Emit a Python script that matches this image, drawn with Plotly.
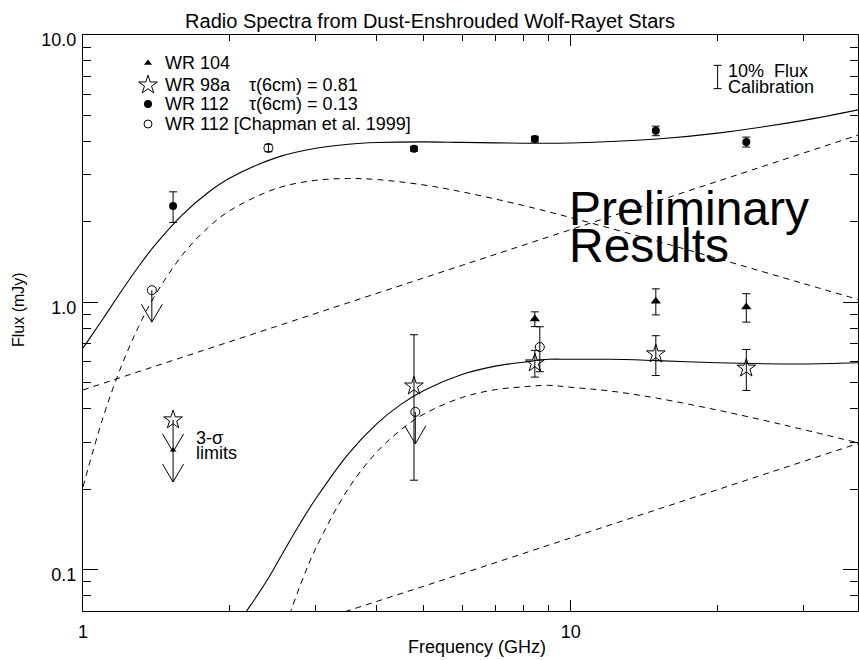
import numpy as np
import plotly.graph_objects as go

# ---------------- data ----------------
x_range = [1.0, 38.8]          # GHz
y_range = [0.07, 10.0]         # mJy

x_major = [1, 10]
x_major_text = ["1", "10"]
x_minor = [2, 3, 4, 5, 6, 7, 8, 9, 20, 30]
y_major = [0.1, 1, 10]
y_major_text = ["0.1", "1.0", "10.0"]
y_minor = [0.07, 0.08, 0.09, 0.2, 0.3, 0.4, 0.5, 0.6, 0.7, 0.8, 0.9,
           2, 3, 4, 5, 6, 7, 8, 9]

wr104_freq = [8.44, 14.94, 22.9]
wr104_flux = [0.866, 1.01, 0.96]
wr104_err = [0.055, 0.113, 0.117]
wr104_lim_freq = [1.53]
wr104_lim_flux = [0.28]

wr98a_freq = [4.77, 8.44, 14.94, 22.9]
wr98a_flux = [0.486, 0.593, 0.641, 0.567]
wr98a_err = [0.27, 0.068, 0.109, 0.099]
wr98a_lim_freq = [1.53]
wr98a_lim_flux = [0.363]

wr112_freq = [1.53, 4.77, 8.44, 14.94, 22.9]
wr112_flux = [2.29, 3.75, 4.08, 4.38, 3.98]
wr112_err = [0.30, 0.08, 0.10, 0.18, 0.17]

chap_freq = [2.4, 8.64]
chap_flux = [3.78, 0.68]
chap_err = [0.12, 0.13]
chap_lim_freq = [1.384, 4.8]
chap_lim_flux = [1.11, 0.389]

cal_freq = [20.0]
cal_flux = [7.0]
cal_err = [0.7]

# model curves
wr112_curve_freq = [1.0, 1.1, 1.2, 1.3, 1.4, 1.6, 1.8, 2.0, 2.5, 3.0, 3.5, 4.0,
                    5.0, 6.0, 8.0, 10.0, 15.0, 20.0, 30.0, 38.8]
wr112_total = [0.674, 0.870, 1.104, 1.361, 1.625, 2.130, 2.564, 2.915, 3.485,
               3.768, 3.902, 3.959, 3.981, 3.964, 3.938, 3.945, 4.080, 4.294,
               4.792, 5.245]
wr112_sync = [0.204, 0.372, 0.580, 0.811, 1.050, 1.507, 1.895, 2.203, 2.671,
              2.859, 2.905, 2.879, 2.747, 2.587, 2.301, 2.074, 1.694, 1.458,
              1.175, 1.025]
wr112_ff_freq = [1.0, 2.0, 5.0, 10.0, 20.0, 38.8]
wr112_ff = [0.47, 0.712, 1.234, 1.871, 2.836, 4.22]

wr98a_curve_freq = [2.1, 2.2, 2.4, 2.6, 2.8, 3.0, 3.5, 4.0, 4.5, 5.0, 6.0, 7.0,
                    8.0, 9.0, 10.0, 12.0, 15.0, 20.0, 25.0, 30.0, 38.8]
wr98a_total = [0.065, 0.073, 0.093, 0.120, 0.151, 0.184, 0.271, 0.351, 0.417,
               0.468, 0.538, 0.577, 0.597, 0.612, 0.612, 0.612, 0.605, 0.594,
               0.589, 0.588, 0.594]
wr98a_sync = [0.013, 0.020, 0.038, 0.061, 0.089, 0.120, 0.201, 0.275, 0.335,
              0.382, 0.441, 0.471, 0.483, 0.489, 0.481, 0.466, 0.438, 0.395,
              0.361, 0.334, 0.298]
wr98a_ff_freq = [2.0, 5.0, 10.0, 20.0, 38.8]
wr98a_ff = [0.0505, 0.0867, 0.1314, 0.1991, 0.2963]

# ---------------- layout constants ----------------
W, H = 859, 660
L, R, T, B = 83, 858, 35, 611
FONT = "Liberation Sans, Arial, Helvetica, sans-serif"
BLACK = "black"
DASH = "6px,5px"

x_px_per_dec = (R - L) / (np.log10(x_range[1]) - np.log10(x_range[0]))
y_px_per_dec = (B - T) / (np.log10(y_range[1]) - np.log10(y_range[0]))


def px(x):
    return (x - L) / (R - L)


def py(y):
    return (B - y) / (B - T)


def limit_arrows(freqs, fluxes, length=32, head=18, half=10.5):
    xs, ys = [], []
    for f, v in zip(freqs, fluxes):
        tip = v * 10 ** (-length / y_px_per_dec)
        top = tip * 10 ** (head / y_px_per_dec)
        fl = f * 10 ** (-half / x_px_per_dec)
        fr = f * 10 ** (half / x_px_per_dec)
        xs += [f, f, None, fl, f, fr, None]
        ys += [v, tip, None, top, tip, top, None]
    return xs, ys


fig = go.Figure()

line_solid = dict(color=BLACK, width=1.1)
line_dash = dict(color=BLACK, width=1, dash=DASH)

# model curves
fig.add_trace(go.Scatter(x=wr112_curve_freq, y=wr112_total, mode="lines",
                         line=dict(**line_solid, shape="spline"), showlegend=False))
fig.add_trace(go.Scatter(x=wr112_curve_freq, y=wr112_sync, mode="lines",
                         line=dict(**line_dash, shape="spline"), showlegend=False))
fig.add_trace(go.Scatter(x=wr112_ff_freq, y=wr112_ff, mode="lines",
                         line=line_dash, showlegend=False))
fig.add_trace(go.Scatter(x=wr98a_curve_freq, y=wr98a_total, mode="lines",
                         line=dict(**line_solid, shape="spline"), showlegend=False))
fig.add_trace(go.Scatter(x=wr98a_curve_freq, y=wr98a_sync, mode="lines",
                         line=dict(**line_dash, shape="spline"), showlegend=False))
fig.add_trace(go.Scatter(x=wr98a_ff_freq, y=wr98a_ff, mode="lines",
                         line=line_dash, showlegend=False))

# upper-limit arrows
for fr_, fl_ in [(chap_lim_freq, chap_lim_flux), (wr98a_lim_freq, wr98a_lim_flux),
                 (wr104_lim_freq, wr104_lim_flux)]:
    ax_, ay_ = limit_arrows(fr_, fl_)
    fig.add_trace(go.Scatter(x=ax_, y=ay_, mode="lines",
                             line=dict(color=BLACK, width=1), showlegend=False,
                             hoverinfo="skip"))

err_style = dict(type="data", color=BLACK, thickness=1, width=4)

# data points
fig.add_trace(go.Scatter(x=wr112_freq, y=wr112_flux, mode="markers", name="WR 112",
                         marker=dict(symbol="circle", size=8, color=BLACK),
                         error_y=dict(array=wr112_err, **err_style), showlegend=False))
fig.add_trace(go.Scatter(x=chap_freq, y=chap_flux, mode="markers",
                         name="WR 112 [Chapman et al. 1999]",
                         marker=dict(symbol="circle-open", size=9, color=BLACK,
                                     line=dict(width=1, color=BLACK)),
                         error_y=dict(array=chap_err, **err_style), showlegend=False))
fig.add_trace(go.Scatter(x=chap_lim_freq, y=chap_lim_flux, mode="markers",
                         marker=dict(symbol="circle-open", size=9, color=BLACK,
                                     line=dict(width=1, color=BLACK)), showlegend=False))
fig.add_trace(go.Scatter(x=wr104_freq, y=wr104_flux, mode="markers", name="WR 104",
                         marker=dict(symbol="triangle-up", size=9, color=BLACK),
                         error_y=dict(array=wr104_err, **err_style), showlegend=False))
fig.add_trace(go.Scatter(x=wr104_lim_freq, y=wr104_lim_flux, mode="markers",
                         marker=dict(symbol="triangle-up", size=6, color=BLACK),
                         showlegend=False))
fig.add_trace(go.Scatter(x=wr98a_freq, y=wr98a_flux, mode="markers", name="WR 98a",
                         marker=dict(symbol="star-open", size=14, color=BLACK,
                                     line=dict(width=1, color=BLACK)),
                         error_y=dict(array=wr98a_err, **err_style), showlegend=False))
fig.add_trace(go.Scatter(x=wr98a_lim_freq, y=wr98a_lim_flux, mode="markers",
                         marker=dict(symbol="star-open", size=14, color=BLACK,
                                     line=dict(width=1, color=BLACK)), showlegend=False))
# 10% flux calibration bar
fig.add_trace(go.Scatter(x=cal_freq, y=cal_flux, mode="markers",
                         marker=dict(size=1, color="rgba(0,0,0,0)"),
                         error_y=dict(array=cal_err, **err_style), showlegend=False,
                         hoverinfo="skip"))

# legend symbols on an overlay (paper-like) axis pair
leg_rows = [63, 85, 104, 124]
leg_sym = [dict(symbol="triangle-up", size=7, color=BLACK),
           dict(symbol="star-open", size=14, color=BLACK, line=dict(width=1, color=BLACK)),
           dict(symbol="circle", size=8, color=BLACK),
           dict(symbol="circle-open", size=8, color=BLACK, line=dict(width=1, color=BLACK))]
for row, sym in zip(leg_rows, leg_sym):
    fig.add_trace(go.Scatter(x=[px(148)], y=[py(row)], mode="markers", marker=sym,
                             xaxis="x2", yaxis="y2", showlegend=False, hoverinfo="skip"))

NB = "\u00a0"
annots = []


def text(x, y, s, size=18, xanchor="left", angle=0, base=None):
    """Place text; multi-line text uses a small base font to set tight line spacing."""
    if base is not None:
        s = "<br>".join('<span style="font-size:%dpx">%s</span>' % (size, part)
                        for part in s.split("\n"))
    annots.append(dict(x=px(x), y=py(y), xref="paper", yref="paper", text=s,
                       showarrow=False, xanchor=xanchor, yanchor="middle",
                       align="left", textangle=angle, borderpad=0,
                       font=dict(family=FONT, size=base or size, color=BLACK)))


text(164, leg_rows[0], "WR 104")
text(164, leg_rows[1], "WR 98a")
text(248, leg_rows[1], "τ(6cm) = 0.81")
text(164, leg_rows[2], "WR 112")
text(248, leg_rows[2], "τ(6cm) = 0.13")
text(164, leg_rows[3], "WR 112 [Chapman et al. 1999]")
text(727, 79, "10%" + NB + NB + "Flux\nCalibration", base=12)
text(195, 445, "3-σ\nlimits", base=11.5)
text(568, 227, "Preliminary\nResults", size=48, base=28.5)
text(18, 310, "Flux (mJy)", size=16, xanchor="center", angle=-90)
text(477, 647, "Frequency (GHz)", size=18, xanchor="center")

axis_common = dict(type="log", showgrid=False, zeroline=False, showline=True,
                   linecolor=BLACK, linewidth=1, mirror="allticks", ticks="inside",
                   tickcolor=BLACK, tickwidth=1,
                   tickfont=dict(family=FONT, size=18, color=BLACK))

fig.update_layout(
    width=W, height=H,
    margin=dict(l=L, r=W - R, t=T, b=H - B, autoexpand=False),
    paper_bgcolor="white", plot_bgcolor="white",
    showlegend=False,
    title=dict(text="Radio Spectra from Dust-Enshrouded Wolf-Rayet Stars",
               x=430 / W, xanchor="center", xref="container",
               y=1 - 21 / H, yanchor="middle", yref="container",
               font=dict(family=FONT, size=20, color=BLACK)),
    xaxis=dict(**axis_common,
               range=[np.log10(x_range[0]), np.log10(x_range[1])],
               tickmode="array", tickvals=x_major, ticktext=x_major_text, ticklen=11,
               ticklabelstandoff=4,
               minor=dict(tickmode="array", tickvals=x_minor, ticks="inside",
                          ticklen=6, tickcolor=BLACK, tickwidth=1, showgrid=False)),
    yaxis=dict(**axis_common,
               range=[np.log10(y_range[0]), np.log10(y_range[1])],
               tickmode="array", tickvals=y_major, ticktext=y_major_text, ticklen=15,
               ticklabelstandoff=2, ticklabelshift=5,
               minor=dict(tickmode="array", tickvals=y_minor, ticks="inside",
                          ticklen=8, tickcolor=BLACK, tickwidth=1, showgrid=False)),
    xaxis2=dict(overlaying="x", range=[0, 1], visible=False),
    yaxis2=dict(overlaying="y", range=[0, 1], visible=False),
    annotations=annots,
)

fig.write_html("out.html",
               config={"displayModeBar": False, "staticPlot": True},
               post_script="document.body.style.margin='0';"
                           "document.body.style.overflow='hidden';")
